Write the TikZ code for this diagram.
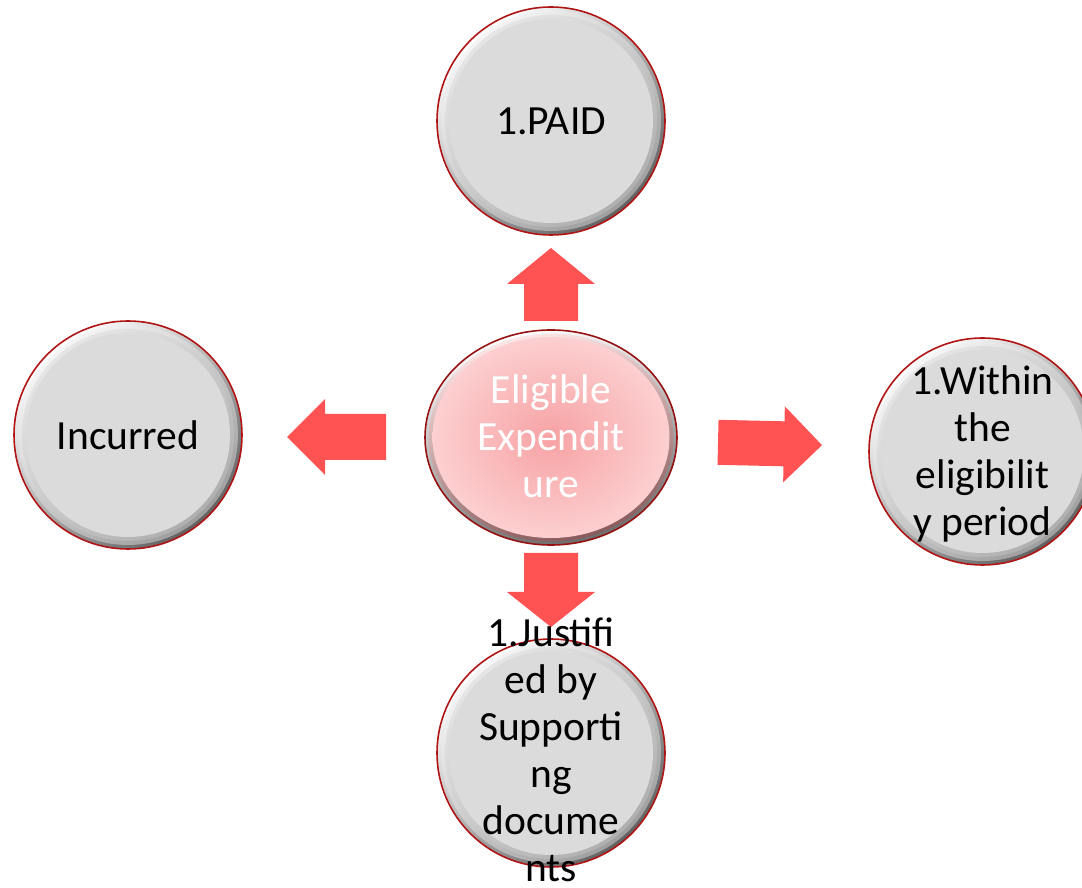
\documentclass[tikz,border=0pt]{standalone}
\usepackage{fontspec}
\setmainfont{Carlito}
\definecolor{discgray}{HTML}{DCDBDC}
\definecolor{ringred}{HTML}{B01414}
\definecolor{arrowred}{HTML}{FF5353}
\definecolor{pinkin}{HTML}{F7A2A4}
\definecolor{pinkout}{HTML}{FCCFD0}
\tikzset{
  ring/.style={circle, draw=ringred, line width=1.6pt, inner sep=0pt},
  oval/.style={ellipse, draw=ringred!85!black, line width=1.6pt, inner sep=0pt},
  txt/.style={align=center, inner sep=0pt, font=\fontsize{41.5}{47}\selectfont},
  blockarrow/.style={fill=arrowred, draw=none},
}
\usetikzlibrary{shapes.geometric}
\newcommand\bevdisc[3]{%
  \shade[top color=white, bottom color=black!62, shading angle=40] (#1,#2) circle (#3);
  \shade[top color=white!96!black, bottom color=black!38, shading angle=40] (#1,#2) circle ({#3-4});
  \shade[top color=white!90!black, bottom color=discgray!80!black, shading angle=40] (#1,#2) circle ({#3-8});
  \fill[discgray] (#1,#2) circle ({#3-12});
}
\begin{document}
\begin{tikzpicture}[x=1pt,y=1pt]
\clip (0,0) rectangle (1082,887);
\fill[white] (0,0) rectangle (1082,887);

% bevelled discs
\bevdisc{551}{766}{114}
\bevdisc{128}{452}{114}
\bevdisc{982.5}{435.5}{113.5}
\bevdisc{551}{134}{114}

\node[ring, minimum size=228pt] (paid) at (551,766) {};
\node[ring, minimum size=228pt] (incurred) at (128,452) {};
\node[ring, minimum size=227pt] (within) at (982.5,435.5) {};
\node[ring, minimum size=228pt] (justified) at (551,134) {};

% centre ellipse
\shade[top color=white, bottom color=black!58, shading angle=15] (551,449.5) ellipse (126 and 107.5);
\shade[top color=pinkout!50!white, bottom color=pinkin!55!black, shading angle=15] (551,449.5) ellipse (122.5 and 104);
\shade[inner color=pinkin, outer color=pinkout] (551,449.5) ellipse (118.5 and 100.5);
\node[oval, minimum width=252pt, minimum height=215pt] (eligible) at (551,449.5) {};

% block arrows
\fill[blockarrow] (524,566) -- (524,603) -- (507,603) -- (551,639) -- (595,603) -- (578,603) -- (578,566) -- cycle;
\fill[blockarrow] (524,334) -- (524,295) -- (507,295) -- (551,260) -- (595,295) -- (578,295) -- (578,334) -- cycle;
\fill[blockarrow] (386,473) -- (325,473) -- (325,488) -- (287,450) -- (325,412) -- (325,427) -- (386,427) -- cycle;
\begin{scope}[rotate around={-1.3:(770,443)}]
\fill[blockarrow] (718,466) -- (784,466) -- (784,481) -- (822,443) -- (784,405) -- (784,421) -- (718,421) -- cycle;
\end{scope}

% texts
\node[txt] at (paid) {1.PAID};
\node[txt] at (incurred) {Incurred};
\node[txt] at ([yshift=-2pt]within.center) {1.Within\\the\\eligibilit\\y period};
\node[txt] at ([yshift=3pt]justified.center) {1.Justifi\\ed by\\Supporti\\ng\\docume\\nts};
\node[txt, text=white] at ([yshift=1pt]eligible.center) {Eligible\\Expendit\\ure};
\end{tikzpicture}
\end{document}
